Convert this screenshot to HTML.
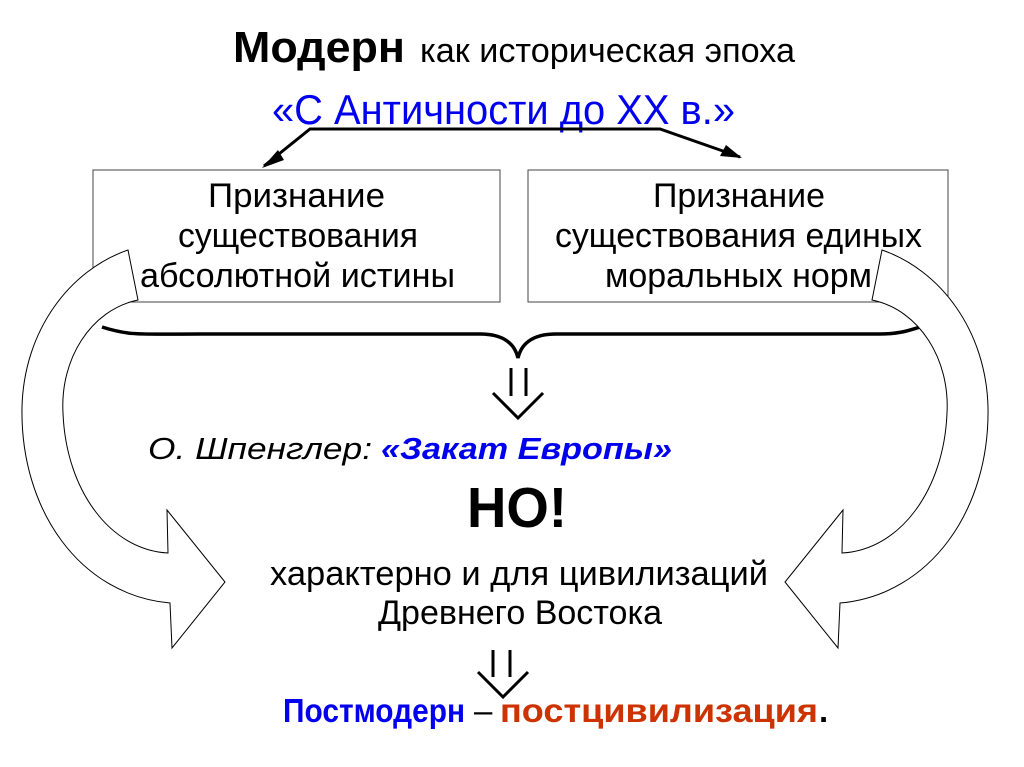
<!DOCTYPE html>
<html><head><meta charset="utf-8"><style>
html,body{margin:0;padding:0;background:#fff;}
svg{display:block;}
text{font-family:"Liberation Sans","DejaVu Sans",sans-serif;}
</style></head><body>
<svg width="1024" height="767" viewBox="0 0 1024 767" xmlns="http://www.w3.org/2000/svg">
<rect width="1024" height="767" fill="#fff"/>
<text x="233" y="62" font-size="44" font-weight="bold" fill="#000" textLength="172" lengthAdjust="spacingAndGlyphs">Модерн</text>
<text x="420" y="62" font-size="34" fill="#000" textLength="375" lengthAdjust="spacingAndGlyphs">как историческая эпоха</text>
<text x="272" y="124" font-size="42" fill="#0000ee" textLength="463" lengthAdjust="spacingAndGlyphs">«С Античности до ХХ в.»</text>
<polyline points="264,166 310,129 660,129 740,157" fill="none" stroke="#000" stroke-width="3"/>
<polygon points="262,168 278,150 284,160" fill="#000"/>
<polygon points="742,158 720,156 726,145" fill="#000"/>
<rect x="93" y="170" width="407" height="132" fill="#fff" stroke="#444" stroke-width="1"/>
<rect x="528" y="170" width="420" height="132" fill="#fff" stroke="#444" stroke-width="1"/>
<g font-size="34" fill="#000">
<text x="208" y="207" textLength="177" lengthAdjust="spacingAndGlyphs">Признание</text>
<text x="178" y="247" textLength="240" lengthAdjust="spacingAndGlyphs">существования</text>
<text x="140" y="287" textLength="315" lengthAdjust="spacingAndGlyphs">абсолютной истины</text>
<text x="653" y="207" textLength="172" lengthAdjust="spacingAndGlyphs">Признание</text>
<text x="555" y="247" textLength="367" lengthAdjust="spacingAndGlyphs">существования единых</text>
<text x="605" y="287" textLength="267" lengthAdjust="spacingAndGlyphs">моральных норм</text>
</g>
<path d="M102,327 C130,336 140,334 200,334 L480,334 C505,334 515,345 518,358 C521,345 531,334 556,334 L880,334 C900,334 910,330 920,327" fill="none" stroke="#000" stroke-width="3.5"/>
<path d="M128,250 L138,300 C90,310 60,360 63,413 C66,490 110,550 168,553 L167,510 L225,582 L172,648 L170,603 C80,595 20,510 22,407 C24,330 70,270 128,250 Z" fill="#fff" stroke="#000" stroke-width="1"/>
<g transform="translate(1010,0) scale(-1,1)">
<path d="M128,250 L138,300 C90,310 60,360 63,413 C66,490 110,550 168,553 L167,510 L225,582 L172,648 L170,603 C80,595 20,510 22,407 C24,330 70,270 128,250 Z" fill="#fff" stroke="#000" stroke-width="1"/>
</g>
<g fill="none" stroke="#000" stroke-width="3">
<line x1="511" y1="368" x2="511" y2="396"/><line x1="526" y1="368" x2="526" y2="396"/>
<polyline points="493,393 518,418 543,393"/>
<line x1="493" y1="650" x2="493" y2="677"/><line x1="510" y1="650" x2="510" y2="677"/>
<polyline points="478,672 503,697 528,672"/>
</g>
<text x="148" y="459" font-size="31" font-style="italic" fill="#000" textLength="224" lengthAdjust="spacingAndGlyphs">О. Шпенглер:</text>
<text x="381" y="459" font-size="31" font-style="italic" font-weight="bold" fill="#0000ee" textLength="291" lengthAdjust="spacingAndGlyphs">«Закат Европы»</text>
<text x="467" y="527" font-size="57" font-weight="bold" fill="#000" textLength="100" lengthAdjust="spacingAndGlyphs">НО!</text>
<text x="270" y="585" font-size="34" fill="#000" textLength="498" lengthAdjust="spacingAndGlyphs">характерно и для цивилизаций</text>
<text x="378" y="624" font-size="34" fill="#000" textLength="284" lengthAdjust="spacingAndGlyphs">Древнего Востока</text>
<text x="283" y="722" font-size="33" font-weight="bold" fill="#0000ee" textLength="182" lengthAdjust="spacingAndGlyphs">Постмодерн</text>
<text x="474" y="722" font-size="33" fill="#000">–</text>
<text x="500" y="722" font-size="33" font-weight="bold" fill="#cc3300" textLength="318" lengthAdjust="spacingAndGlyphs">постцивилизация</text>
<text x="819" y="722" font-size="33" font-weight="bold" fill="#000">.</text>
</svg>
</body></html>
